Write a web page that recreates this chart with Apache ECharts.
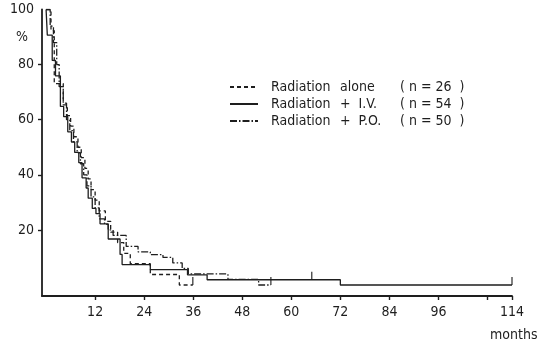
<!DOCTYPE html>
<html>
<head>
<meta charset="utf-8">
<script src="https://cdn.jsdelivr.net/npm/echarts@6/dist/echarts.min.js"></script>
<style>
  html, body { margin: 0; padding: 0; background: #fff; }
  #chart { width: 544px; height: 348px; }
</style>
</head>
<body>
<div id="chart"></div>
<script>
// Survival (%) by months after treatment, Kaplan-Meier style step curves
const xTickValues = [12, 24, 36, 48, 60, 72, 84, 96, 108, 114];
const xLabelValues = [12, 24, 36, 48, 60, 72, 84, 96, 114];
const yTickValues = [20, 40, 60, 80];
const yLabelValues = [20, 40, 60, 80, 100];

const seriesNames = ['Radiation  alone', 'Radiation  +  I.V.', 'Radiation  +  P.O.'];
const seriesCounts = ['26', '54', '50'];

// Radiation alone (n = 26)
const aloneMonths = [0, 1.2, 2.0, 4.2, 5.2, 6.0, 6.8, 7.8, 8.6, 9.5, 10.3, 11.0, 12.0, 13.0, 14.5, 15.8, 17.5, 19.0, 20.6, 25.5, 32.6, 35.9];
const aloneSurv   = [100, 92.3, 73.1, 65.4, 61.5, 57.7, 53.8, 50.0, 46.2, 42.3, 38.5, 34.6, 30.8, 26.9, 23.1, 19.2, 15.4, 11.5, 7.7, 3.8, 0, 0];

// Radiation + I.V. (n = 54)
const ivMonths = [0, 0.3, 1.5, 2.3, 3.5, 4.3, 5.3, 6.2, 7.0, 8.0, 8.8, 9.8, 10.3, 11.3, 12.2, 13.2, 15.2, 18.1, 18.6, 25.5, 34.6, 39.4, 72, 114];
const ivSurv   = [100, 90.7, 81.5, 75.9, 64.8, 61.1, 55.6, 51.9, 48.1, 44.4, 38.9, 35.2, 31.5, 27.8, 25.9, 22.2, 16.7, 11.1, 7.4, 5.6, 3.7, 1.9, 0, 0];

// Radiation + P.O. (n = 50)
const poMonths = [0, 1.0, 1.8, 2.6, 3.2, 4.2, 5.0, 5.8, 6.7, 7.6, 8.4, 9.2, 10.0, 11.0, 12.0, 13.0, 14.3, 15.2, 16.4, 19.6, 22.5, 25.5, 28.6, 31.0, 33.3, 34.8, 44.5, 52, 55];
const poSurv   = [100, 94, 88, 80, 72, 66, 60, 56, 52, 48, 44, 40, 36, 32, 28, 24, 22, 20, 18, 14, 12, 11, 10, 8, 6, 4, 2, 0, 0];

// censored observations (vertical ticks)
const ivCensorMonths = [65, 114];
const ivCensorSurv = [1.9, 0];
const aloneCensorMonths = [35.9];
const aloneCensorSurv = [0];
const poCensorMonths = [55];
const poCensorSurv = [0];

const ink = '#1e1e1e';
const font = "'Liberation Sans Narrow', 'DejaVu Sans Condensed', sans-serif";

function pairs(xs, ys) { return xs.map((x, i) => [x, ys[i]]); }

const lineStyles = [
  { type: [4, 3], width: 1.3 },
  { type: 'solid', width: 1.3 },
  { type: [7, 2, 1.5, 2], width: 1.3 }
];
const stepData = [pairs(aloneMonths, aloneSurv), pairs(ivMonths, ivSurv), pairs(poMonths, poSurv)];
const censorData = [pairs(aloneCensorMonths, aloneCensorSurv), pairs(ivCensorMonths, ivCensorSurv), pairs(poCensorMonths, poCensorSurv)];

const series = [];
seriesNames.forEach((name, i) => {
  series.push({
    name: name,
    type: 'line',
    step: 'end',
    data: stepData[i],
    symbol: 'none',
    lineStyle: Object.assign({ color: ink }, lineStyles[i]),
    itemStyle: { color: ink },
    z: 3 - i
  });
});
censorData.forEach((d) => {
  series.push({
    type: 'scatter',
    data: d,
    symbol: 'rect',
    symbolSize: [1.4, 8],
    symbolOffset: [0, -4],
    itemStyle: { color: ink },
    silent: true
  });
});

const chart = echarts.init(document.getElementById('chart'), null, { renderer: 'canvas' });
chart.setOption({
  animation: false,
  backgroundColor: '#ffffff',
  grid: { left: 42, right: 32, top: 9.5, bottom: 52 },
  xAxis: {
    type: 'value',
    min: -1,
    max: 114,
    axisLine: { onZero: false, lineStyle: { color: ink, width: 1.8 } },
    axisTick: { customValues: xTickValues, length: 4, lineStyle: { color: ink, width: 1.4 } },
    axisLabel: { customValues: xLabelValues, margin: 9, color: ink, fontFamily: font, fontSize: 14 },
    splitLine: { show: false }
  },
  yAxis: {
    type: 'value',
    min: -4,
    max: 100,
    axisLine: { show: true, onZero: false, lineStyle: { color: ink, width: 1.8 } },
    axisTick: { show: true, customValues: yTickValues, length: 4, lineStyle: { color: ink, width: 1.4 } },
    axisLabel: { customValues: yLabelValues, margin: 8, color: ink, fontFamily: font, fontSize: 14 },
    splitLine: { show: false }
  },
  legend: {
    data: seriesNames,
    orient: 'vertical',
    left: 224,
    top: 75,
    itemWidth: 28,
    itemHeight: 12,
    itemGap: 3,
    itemStyle: { opacity: 0 },
    formatter: function (name) {
      const i = seriesNames.indexOf(name);
      const parts = name.split(/\s{2,}/);
      const rest = parts.slice(1).join('  ');
      return '{a|' + parts[0] + '}{b|' + rest + '}{c|( n = ' + seriesCounts[i] + '  )}';
    },
    textStyle: {
      color: ink,
      fontFamily: font,
      fontSize: 14,
      rich: {
        a: { width: 69, padding: [0, 0, 0, 8], fontFamily: font, fontSize: 14, color: ink },
        b: { width: 60, fontFamily: font, fontSize: 14, color: ink },
        c: { fontFamily: font, fontSize: 14, color: ink }
      }
    }
  },
  graphic: [
    { type: 'text', left: 16, top: 30, style: { text: '%', fill: ink, font: "14px 'Liberation Sans Narrow', 'DejaVu Sans Condensed', sans-serif" } },
    { type: 'text', left: 490, top: 328, style: { text: 'months', fill: ink, font: "14px 'Liberation Sans Narrow', 'DejaVu Sans Condensed', sans-serif" } }
  ],
  series: series
});
</script>
</body>
</html>
